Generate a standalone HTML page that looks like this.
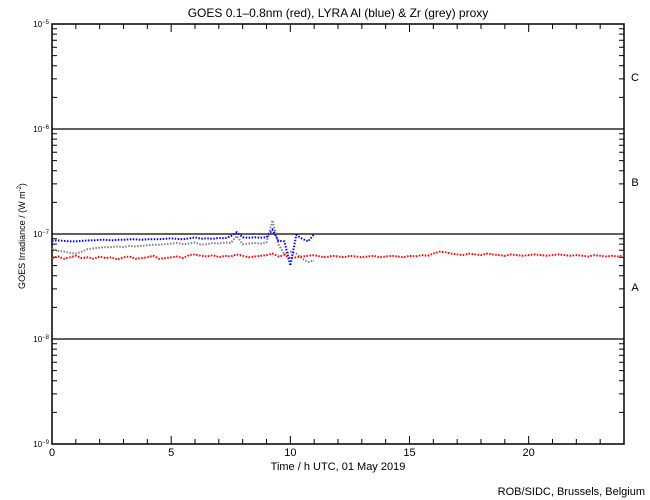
<!DOCTYPE html>
<html><head><meta charset="utf-8"><style>
body{margin:0;background:#fff;}
svg{display:block;font-family:"Liberation Sans",sans-serif;}
</style></head><body>
<svg id="chart" width="650" height="500" viewBox="0 0 650 500">
<rect width="650" height="500" fill="#fff"/>
<text x="338" y="17" font-size="12" text-anchor="middle">GOES 0.1–0.8nm (red), LYRA Al (blue) &amp; Zr (grey) proxy</text>
<g id="axes"></g>
<g id="series"></g>
<text x="338" y="470" font-size="11" text-anchor="middle">Time / h UTC, 01 May 2019</text>
<text transform="translate(25,236) rotate(-90)" font-size="9" text-anchor="middle">GOES Irradiance / (W m<tspan dy="-4" font-size="6">-2</tspan><tspan dy="4">)</tspan></text>
<text x="635" y="81" font-size="11" text-anchor="middle">C</text>
<text x="635" y="186" font-size="11" text-anchor="middle">B</text>
<text x="635" y="291" font-size="11" text-anchor="middle">A</text>
<text x="645" y="495" font-size="11" text-anchor="end">ROB/SIDC, Brussels, Belgium</text>
</svg>
<script>
const xTicks=[0,5,10,15,20];
const yDecades=[-9,-8,-7,-6,-5];
const step=0.25;
const redVals=[5.9,6.1,5.8,6.0,6.2,5.9,6.0,5.8,6.1,5.9,6.0,5.7,6.0,6.1,5.8,5.9,6.0,6.2,5.8,5.9,6.0,6.1,5.9,6.3,6.4,6.2,6.1,6.3,6.0,6.2,6.1,6.4,6.2,6.0,6.1,6.2,6.3,6.5,6.1,6.3,5.9,6.0,6.1,6.2,6.3,6.1,6.0,6.2,6.1,6.0,6.2,6.1,6.0,6.1,6.2,6.0,6.1,6.2,6.1,6.0,6.2,6.1,6.3,6.2,6.5,6.8,6.7,6.5,6.4,6.3,6.5,6.4,6.3,6.5,6.4,6.3,6.2,6.4,6.3,6.2,6.3,6.4,6.3,6.2,6.3,6.4,6.3,6.2,6.3,6.2,6.1,6.3,6.2,6.1,6.2,6.1,6.2];
const blueVals=[8.6,8.7,8.6,8.5,8.5,8.6,8.7,8.7,8.8,8.8,8.7,8.8,8.8,8.9,8.9,8.8,8.9,8.9,8.9,9.0,9.1,9.0,8.9,9.1,9.3,9.0,9.1,9.0,9.2,9.1,9.5,10.4,9.3,9.2,9.3,9.2,9.3,11.0,8.6,8.5,5.0,9.8,9.0,8.5,10.0];
const greyVals=[7.3,6.9,6.8,6.6,6.5,6.8,7.2,7.3,7.4,7.5,7.5,7.6,7.5,7.7,7.6,7.7,7.8,7.9,7.9,8.0,8.1,8.2,8.0,8.1,8.3,7.9,8.0,8.2,8.1,8.3,8.2,9.6,8.0,8.1,8.2,8.1,8.3,13.5,8.0,6.4,6.8,6.5,5.8,5.4,5.6];
const X0=52,X1=624,Y0=444,Y1=24;
const xs=h=>X0+h*(X1-X0)/24;
const ys=v=>Y0-(Math.log10(v)+9)*(Y0-Y1)/4;
const NS="http://www.w3.org/2000/svg";
const ax=document.getElementById('axes'),se=document.getElementById('series');
function mk(tag,attrs,parent){const e=document.createElementNS(NS,tag);for(const k in attrs)e.setAttribute(k,attrs[k]);parent.appendChild(e);return e;}
const frame=mk('rect',{x:X0,y:Y1,width:X1-X0,height:Y0-Y1,fill:'none',stroke:'#000','stroke-width':1.5},ax);


for(let h=0;h<=24;h++){
  const x=xs(h),L=(h%5===0)?8:5;
  const t=mk('path',{d:`M${x},${Y0}v${-L}M${x},${Y1}v${L}`,stroke:'#000','stroke-width':1},ax);
  
  
}
xTicks.forEach(h=>{
  const t=mk('text',{x:xs(h),y:456,'font-size':11,'text-anchor':'middle'},ax);t.textContent=h;
  
  
});
yDecades.forEach(d=>{
  const y=ys(Math.pow(10,d));
  if(d>-9&&d<-5){const l=mk('line',{x1:X0,x2:X1,y1:y,y2:y,stroke:'#000','stroke-width':1.3},ax);
    
    }
  const t=mk('text',{x:49,y:y+3,'font-size':8,'text-anchor':'end'},ax);
  
  
  t.textContent='10';const s=mk('tspan',{dy:-3,'font-size':6},t);s.textContent=String(d).replace('-','−');
  if(d<-5)for(let m=2;m<=9;m++){const yy=ys(m*Math.pow(10,d));
    const mt=mk('path',{d:`M${X0},${yy}h5M${X1},${yy}h-5`,stroke:'#000','stroke-width':1},ax);
    
    }
});
function series(vals,color,name){
  const pts=vals.map((v,i)=>`${xs(i*step).toFixed(1)},${ys(v*1e-8).toFixed(1)}`).join(' ');
  const p=mk('polyline',{points:pts,fill:'none',stroke:color,'stroke-width':2,'stroke-dasharray':'1.5 1.5'},se);
  
  
}
series(greyVals,'#808080','zr-grey-series');
series(redVals,'#ff0000','goes-red-series');
series(blueVals,'#0000ff','al-blue-series');
</script>
</body></html>
